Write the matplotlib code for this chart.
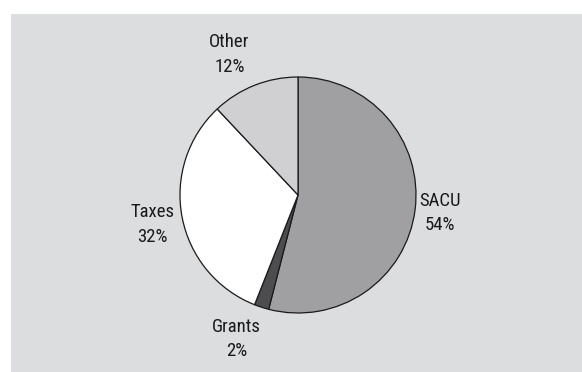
import matplotlib.pyplot as plt

labels = ['SACU', 'Grants', 'Taxes', 'Other']
shares = [54, 2, 32, 12]
colors = ['#a0a0a2', '#4d4d4f', '#ffffff', '#d0d0d2']
# label centres, in units of the pie radius
label_pos = [(1.20, -0.15), (-0.52, -1.22), (-1.23, -0.25), (-0.58, 1.19)]

plt.rcParams['font.family'] = ['Roboto Condensed', 'Archivo Narrow', 'DejaVu Sans']

fig = plt.figure(figsize=(5.82, 3.72), dpi=100)
fig.patch.set_facecolor('white')

# grey panel behind the chart
bg = fig.add_axes([11 / 582, 0, 1 - 11 / 582, 1 - 14 / 372], zorder=-1)
bg.set_facecolor('#dcdddf')
bg.set_xticks([])
bg.set_yticks([])
for s in bg.spines.values():
    s.set_visible(False)

ax = fig.add_axes([180 / 582, 59 / 372, 236 / 582, 236 / 372])
ax.set_facecolor('none')
ax.pie(shares, colors=colors, startangle=90, counterclock=False, radius=1,
       wedgeprops=dict(edgecolor='#1a1a1a', linewidth=0.9))
ax.set_xlim(-1, 1)
ax.set_ylim(-1, 1)
ax.set_aspect('equal')
ax.axis('off')

for name, val, (x, y) in zip(labels, shares, label_pos):
    ax.text(x, y, f'{name}\n{val}%', ha='center', va='center', fontsize=13.5,
            linespacing=1.45, color='#1a1a1a', clip_on=False)

fig.savefig('out.png', dpi=100, facecolor=fig.get_facecolor())
